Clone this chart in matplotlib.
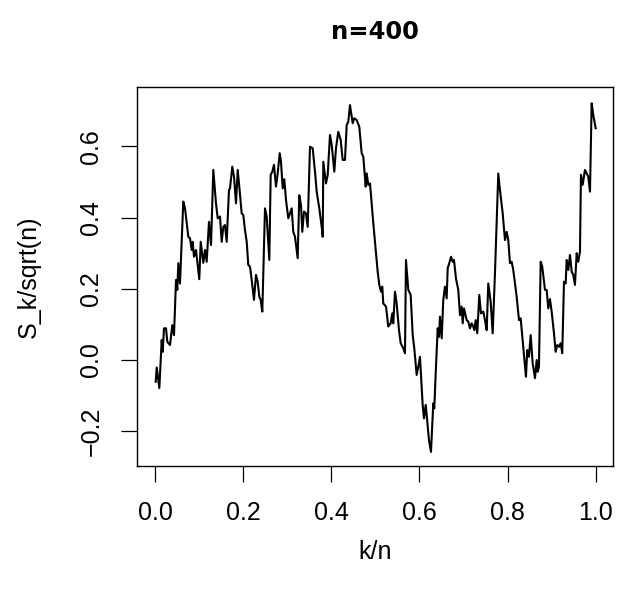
import matplotlib
matplotlib.use("Agg")
import matplotlib.pyplot as plt

plt.rcParams["font.family"] = ["Liberation Sans", "DejaVu Sans"]

# path of S_k/sqrt(n) (k/n, value)
kn = [0.0016, 0.0039, 0.0098, 0.0152, 0.0175, 0.0204, 0.025, 0.0279, 0.034, 0.0393,
      0.0431, 0.0477, 0.0506, 0.0529, 0.0567, 0.0642, 0.0681, 0.0756, 0.0794, 0.0833,
      0.0855, 0.0885, 0.093, 0.1005, 0.1037, 0.1096, 0.1135, 0.1173, 0.1225, 0.1271,
      0.1323, 0.1384, 0.1423, 0.1475, 0.1513, 0.155, 0.1588, 0.1627, 0.1679, 0.1702,
      0.1754, 0.1793, 0.1838, 0.1877, 0.1913, 0.1967, 0.2004, 0.2042, 0.2081, 0.2117,
      0.2156, 0.2194, 0.2246, 0.2292, 0.233, 0.2367, 0.2398, 0.2435, 0.2496, 0.2535,
      0.2594, 0.2625, 0.2662, 0.27, 0.2746, 0.2784, 0.283, 0.2859, 0.2898, 0.2934,
      0.2973, 0.3025, 0.3063, 0.3102, 0.3138, 0.3177, 0.3238, 0.3274, 0.3313, 0.3342,
      0.3381, 0.3426, 0.3465, 0.3517, 0.3578, 0.3631, 0.3669, 0.3728, 0.3783, 0.3806,
      0.3819, 0.388, 0.3919, 0.3971, 0.401, 0.4069, 0.4107, 0.4159, 0.4214, 0.4259,
      0.4311, 0.435, 0.4386, 0.4425, 0.4463, 0.4486, 0.4522, 0.4577, 0.4636, 0.469,
      0.4727, 0.4781, 0.4804, 0.484, 0.4879, 0.4954, 0.5053, 0.509, 0.5128, 0.5158,
      0.518, 0.5242, 0.5294, 0.5348, 0.5385, 0.5407, 0.5446, 0.5484, 0.5537, 0.5575,
      0.5634, 0.5673, 0.5695, 0.5748, 0.5802, 0.5848, 0.5884, 0.5938, 0.5975, 0.6013,
      0.6074, 0.6104, 0.6143, 0.6165, 0.6217, 0.6263, 0.6315, 0.6338, 0.6376, 0.6415,
      0.6444, 0.6467, 0.6506, 0.6542, 0.658, 0.6619, 0.6642, 0.6678, 0.6717, 0.6755,
      0.6785, 0.683, 0.6882, 0.6921, 0.6959, 0.6982, 0.7012, 0.7073, 0.7109, 0.7148,
      0.7186, 0.7223, 0.7245, 0.7277, 0.7313, 0.7359, 0.7397, 0.745, 0.7488, 0.7527,
      0.7563, 0.7617, 0.7663, 0.7715, 0.779, 0.7828, 0.789, 0.7942, 0.798, 0.8017,
      0.8055, 0.8094, 0.813, 0.8207, 0.826, 0.8298, 0.8357, 0.8418, 0.8448, 0.8486,
      0.8525, 0.857, 0.8623, 0.8661, 0.8684, 0.8713, 0.8752, 0.8788, 0.885, 0.8888,
      0.8924, 0.8963, 0.9001, 0.9054, 0.9092, 0.9129, 0.9174, 0.9206, 0.9242, 0.9281,
      0.9319, 0.9342, 0.9379, 0.9417, 0.9456, 0.9492, 0.953, 0.9569, 0.9605, 0.9644,
      0.9666, 0.9705, 0.9757, 0.9796, 0.9832, 0.9871, 0.9909, 0.9946, 1.0]
s_k = [-0.061, -0.021, -0.079, 0.056, 0.023, 0.089, 0.089, 0.051, 0.042, 0.098,
       0.070, 0.225, 0.197, 0.272, 0.215, 0.445, 0.426, 0.346, 0.342, 0.309,
       0.332, 0.290, 0.309, 0.227, 0.332, 0.273, 0.309, 0.276, 0.388, 0.323,
       0.534, 0.440, 0.398, 0.403, 0.332, 0.374, 0.379, 0.332, 0.478, 0.482,
       0.543, 0.515, 0.440, 0.534, 0.487, 0.412, 0.407, 0.365, 0.332, 0.267,
       0.262, 0.225, 0.169, 0.239, 0.220, 0.178, 0.169, 0.136, 0.426, 0.403,
       0.281, 0.520, 0.529, 0.548, 0.487, 0.524, 0.581, 0.557, 0.482, 0.508,
       0.449, 0.398, 0.412, 0.426, 0.360, 0.346, 0.286, 0.463, 0.435, 0.360,
       0.417, 0.412, 0.374, 0.599, 0.595, 0.529, 0.473, 0.426, 0.374, 0.346,
       0.557, 0.496, 0.520, 0.632, 0.604, 0.529, 0.595, 0.641, 0.618, 0.562,
       0.562, 0.660, 0.669, 0.716, 0.683, 0.665, 0.679, 0.674, 0.655, 0.581,
       0.571, 0.487, 0.524, 0.492, 0.496, 0.384, 0.248, 0.211, 0.192, 0.206,
       0.159, 0.150, 0.094, 0.103, 0.131, 0.103, 0.192, 0.159, 0.084, 0.047,
       0.033, 0.019, 0.281, 0.197, 0.183, 0.070, 0.033, -0.042, -0.019, 0.009,
       -0.126, -0.164, -0.126, -0.154, -0.225, -0.258, -0.122, -0.136, -0.019, 0.089,
       0.065, 0.122, 0.061, 0.169, 0.206, 0.173, 0.258, 0.272, 0.290, 0.276,
       0.281, 0.229, 0.197, 0.126, 0.150, 0.103, 0.145, 0.112, 0.108, 0.089,
       0.103, 0.094, 0.084, 0.112, 0.075, 0.183, 0.131, 0.136, 0.112, 0.084,
       0.215, 0.164, 0.075, 0.244, 0.524, 0.478, 0.412, 0.337, 0.360, 0.337,
       0.272, 0.276, 0.253, 0.178, 0.112, 0.117, 0.037, -0.047, 0.028, 0.009,
       0.070, -0.009, -0.051, 0.0, -0.033, -0.019, 0.276, 0.262, 0.197, 0.197,
       0.145, 0.171, 0.136, 0.075, 0.023, 0.042, 0.037, 0.047, 0.019, 0.220,
       0.215, 0.281, 0.253, 0.295, 0.248, 0.239, 0.211, 0.300, 0.276, 0.304,
       0.520, 0.492, 0.534, 0.524, 0.515, 0.473, 0.721, 0.688, 0.651]

x_ticks = [0.0, 0.2, 0.4, 0.6, 0.8, 1.0]
y_ticks = [-0.2, 0.0, 0.2, 0.4, 0.6]

fig = plt.figure(figsize=(6.28, 5.97), dpi=100)
ax = fig.add_axes([0.2177, 0.2194, 0.7579, 0.6349])
ax.plot(kn, s_k, color="black", lw=1.5)

ax.set_xlim(-0.0415, 1.0386)
ax.set_ylim(-0.2978, 0.7669)
ax.set_xticks(x_ticks)
ax.set_xticklabels(["%.1f" % v for v in x_ticks])
ax.set_yticks(y_ticks)
ax.set_yticklabels(["\u22120.2" if v < 0 else "%.1f" % v for v in y_ticks],
                   rotation=90, va="center")
ax.tick_params(direction="out", length=11.5, width=0.9, labelsize=18)
ax.tick_params(axis="x", pad=13.5)
ax.tick_params(axis="y", pad=12.5)
for sp in ax.spines.values():
    sp.set_linewidth(1.0)

ax.set_xlabel("k/n", fontsize=18, labelpad=11)
ax.set_ylabel("S_k/sqrt(n)", fontsize=18, labelpad=28)
ax.set_title("n=400", fontsize=17.5, fontweight="bold", pad=34.6,
             family=["DejaVu Sans"])

fig.savefig("out.png", dpi=100)
